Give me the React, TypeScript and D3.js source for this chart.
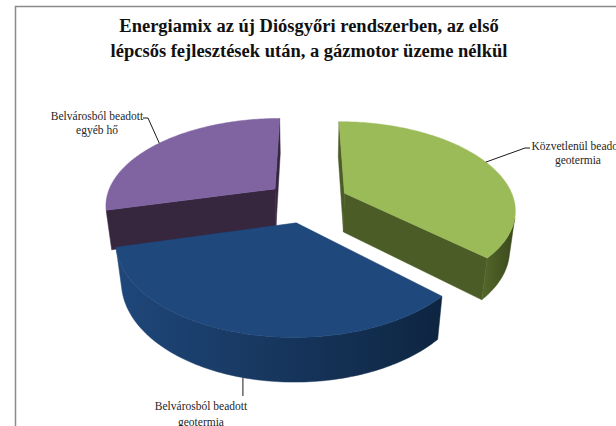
import * as d3 from "d3";

// slice data, clockwise from 12 o'clock (Excel order)
const categories = [
  "Közvetlenül beadott geotermia",
  "Belvárosból beadott geotermia",
  "Belvárosból beadott egyéb hő",
];
const labelLines = [
  ["Közvetlenül beadott", "geotermia"],
  ["Belvárosból beadott", "geotermia"],
  ["Belvárosból beadott", "egyéb hő"],
];
const values = [37, 34, 29];
const titleLines = [
  "Energiamix az új Diósgyőri rendszerben, az első",
  "lépcsős fejlesztések után, a gázmotor üzeme nélkül",
];

const topColors = ["#9BBB59", "#1F497D", "#8064A2"];
const wallColors = [
  ["#55682b", "#3a481b"],
  ["#1f477a", "#0e2541"],
  ["#40305a", "#2c1f3a"],
];
const cutColors = ["#4b5c26", "#17375f", "#36273f"];

// label layout (text centre x, first baseline y, line gap) and leader bend points
const labelPos = [
  [578, 150, 13.5],
  [201, 410, 16],
  [97, 120, 13.5],
];
const leaderBends: number[][][] = [
  [[525, 148], [530, 148]],
  [],
  [[148, 118], [143, 118]],
];

const WIDTH = 616;
const HEIGHT = 426;
const FONT = "'Liberation Serif', 'Times New Roman', serif";

// simple perspective camera for the 3-D pie
const TILT = (30.6 * Math.PI) / 180;
const CAM = 5.0;
const K = 850;
const CX = 307;
const CY = 201.5;
const THICK = 0.275;
const EXPLODE = 0.244;
const cosT = Math.cos(TILT);
const sinT = Math.sin(TILT);

function project(x: number, y: number, z: number): [number, number] {
  const v = y * cosT - z * sinT;
  const d = CAM - (z * cosT + y * sinT);
  return [CX + (K * x) / d, CY - (K * v) / d];
}

function App() {
  const pieGen = d3.pie<number>().sort(null).value((d) => d);
  const arcs = pieGen(values);
  const line = d3.line();
  const camZ = CAM * cosT;

  const slices = arcs.map((a, i) => {
    const mid = (a.startAngle + a.endAngle) / 2;
    const ox = Math.sin(mid) * EXPLODE;
    const oz = -Math.cos(mid) * EXPLODE;
    const pt = (t: number, r: number, y: number) =>
      project(ox + r * Math.sin(t), y, oz - r * Math.cos(t));

    const steps = Math.ceil(((a.endAngle - a.startAngle) * 180) / Math.PI);
    const thetas = d3
      .range(steps + 1)
      .map((k) => a.startAngle + ((a.endAngle - a.startAngle) * k) / steps);

    const top = [pt(0, 0, 0), ...thetas.map((t) => pt(t, 1, 0))];

    // outer wall: keep only the parts that face the camera
    const faces = (t: number) =>
      Math.sin(t) * (0 - (ox + Math.sin(t))) +
        -Math.cos(t) * (camZ - (oz - Math.cos(t))) >
      0;
    const runs: number[][] = [];
    let cur: number[] = [];
    thetas.forEach((t) => {
      if (faces(t)) cur.push(t);
      else if (cur.length) {
        runs.push(cur);
        cur = [];
      }
    });
    if (cur.length) runs.push(cur);
    const walls = runs
      .filter((r) => r.length > 1)
      .map((r) => [
        ...r.map((t) => pt(t, 1, 0)),
        ...r
          .slice()
          .reverse()
          .map((t) => pt(t, 1, -THICK)),
      ]);

    // the two cut faces
    const cuts: [number, number][][] = [];
    const a0 = a.startAngle;
    const a1 = a.endAngle;
    if (-Math.cos(a0) * (0 - ox) + -Math.sin(a0) * (camZ - oz) > 0)
      cuts.push([pt(0, 0, 0), pt(a0, 1, 0), pt(a0, 1, -THICK), pt(0, 0, -THICK)]);
    if (Math.cos(a1) * (0 - ox) + Math.sin(a1) * (camZ - oz) > 0)
      cuts.push([pt(0, 0, 0), pt(a1, 1, 0), pt(a1, 1, -THICK), pt(0, 0, -THICK)]);

    const depth = CAM - (oz - Math.cos(mid) * 0.5) * cosT;
    const attach = pt(mid, 1, Math.cos(mid) < 0 ? -THICK : 0);
    const wallX = walls.flat().map((p) => p[0]);

    return {
      i,
      top,
      walls,
      cuts,
      depth,
      attach,
      x0: d3.min(wallX) ?? 0,
      x1: d3.max(wallX) ?? 1,
    };
  });

  const drawOrder = slices.slice().sort((p, q) => q.depth - p.depth);

  return (
    <svg
      width={WIDTH}
      height={HEIGHT}
      style={{ position: "absolute", left: 0, top: 0, background: "#fff" }}
    >
      <defs>
        {slices.map((s) => (
          <linearGradient
            key={s.i}
            id={`wall${s.i}`}
            gradientUnits="userSpaceOnUse"
            x1={s.x0}
            x2={s.x1}
            y1={0}
            y2={0}
          >
            <stop offset="0%" stopColor={wallColors[s.i][0]} />
            <stop offset="100%" stopColor={wallColors[s.i][1]} />
          </linearGradient>
        ))}
      </defs>

      <rect
        x={15.5}
        y={6.5}
        width={700}
        height={500}
        fill="#fff"
        stroke="#8a8a8a"
        strokeWidth={1.5}
      />

      <g fontFamily={FONT} fontWeight="bold" fontSize={18.5} fill="#111" textAnchor="middle">
        {titleLines.map((t, k) => (
          <text key={k} x={309} y={32 + k * 25}>
            {t}
          </text>
        ))}
      </g>

      {drawOrder.map((s) => (
        <g key={s.i} aria-label={categories[s.i]}>
          {s.cuts.map((c, k) => (
            <path
              key={`c${k}`}
              d={line(c) + "Z"}
              fill={cutColors[s.i]}
              stroke={cutColors[s.i]}
              strokeWidth={0.5}
            />
          ))}
          {s.walls.map((w, k) => (
            <path
              key={`w${k}`}
              d={line(w as [number, number][]) + "Z"}
              fill={`url(#wall${s.i})`}
              stroke={`url(#wall${s.i})`}
              strokeWidth={0.5}
            />
          ))}
          <path
            d={line(s.top) + "Z"}
            fill={topColors[s.i]}
            stroke={topColors[s.i]}
            strokeWidth={0.5}
          />
        </g>
      ))}

      {slices.map((s) => {
        const pts: [number, number][] =
          leaderBends[s.i].length > 0
            ? [s.attach, ...(leaderBends[s.i] as [number, number][])]
            : [s.attach, [s.attach[0], labelPos[s.i][1] - 14]];
        return (
          <path
            key={`l${s.i}`}
            d={line(pts) ?? ""}
            fill="none"
            stroke="#1a1a1a"
            strokeWidth={1}
          />
        );
      })}

      <g fontFamily={FONT} fontSize={11.5} fill="#262626" textAnchor="middle">
        {labelLines.map((ls, i) =>
          ls.map((t, k) => (
            <text
              key={`${i}-${k}`}
              x={labelPos[i][0]}
              y={labelPos[i][1] + k * labelPos[i][2]}
            >
              {t}
            </text>
          ))
        )}
      </g>
    </svg>
  );
}

export default App;
